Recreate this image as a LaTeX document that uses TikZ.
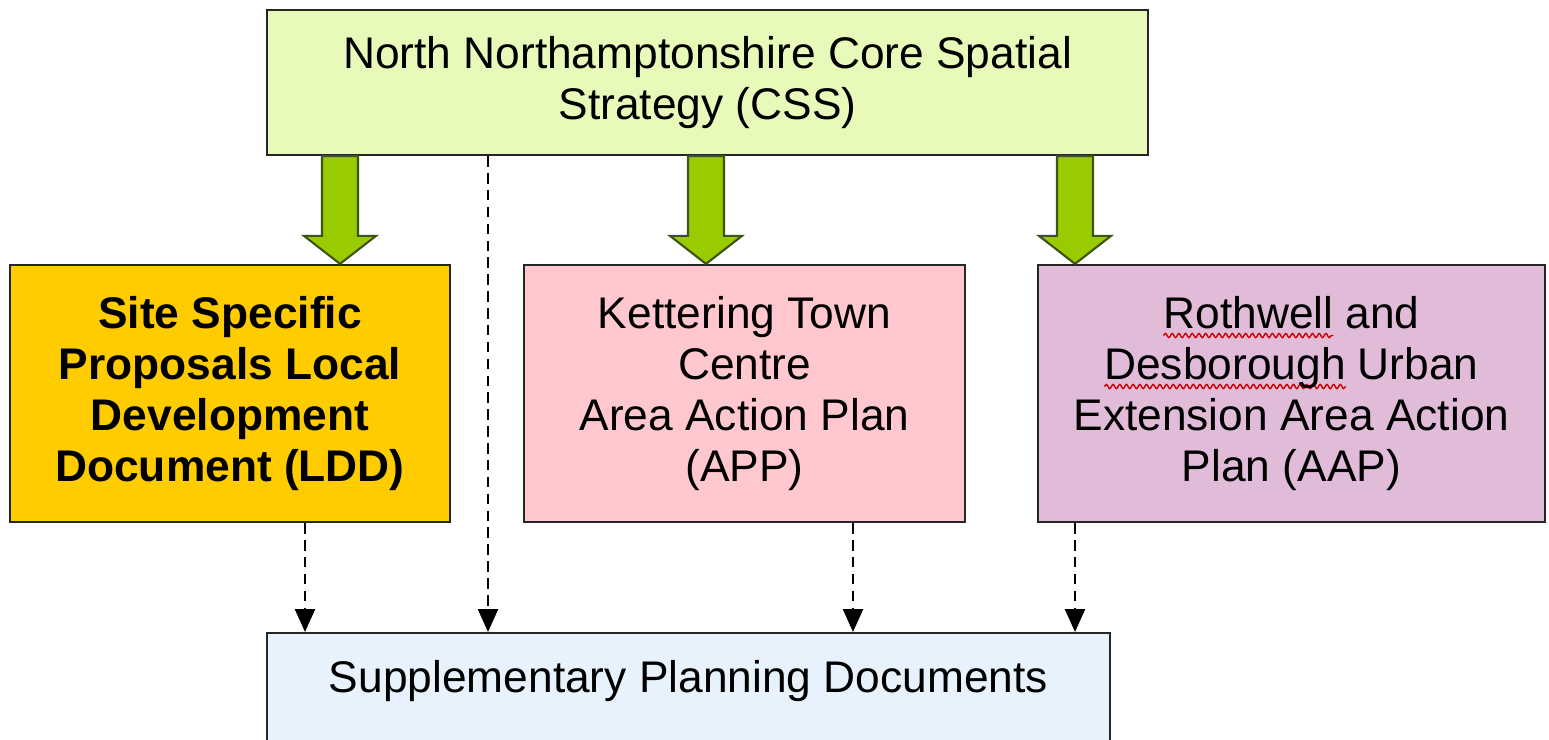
\documentclass[tikz,border=0pt]{standalone}
\usepackage{fontspec}
\setmainfont{Liberation Sans}
\usetikzlibrary{arrows.meta,calc,decorations.pathmorphing}

\definecolor{cssfill}{HTML}{E7FAB9}
\definecolor{lddfill}{HTML}{FFCC00}
\definecolor{appfill}{HTML}{FFC8CE}
\definecolor{aapfill}{HTML}{E1BCD9}
\definecolor{spdfill}{HTML}{E8F2FC}
\definecolor{leafgreen}{HTML}{99CC00}
\definecolor{leafedge}{HTML}{3F5410}

\newcommand{\planfont}{\fontsize{12.6}{14.5}\selectfont}
\newlength{\flagwd}
\newcommand{\spellflag}[1]{\settowidth{\flagwd}{#1}\rlap{\tikz[overlay]\draw[squiggle] (0pt,-2pt) -- (\flagwd,-2pt);}#1}

\tikzset{
	plan/.style={draw=black!85,line width=0.6pt,align=center,inner sep=0pt,font=\planfont},
	feeds/.style={draw=black,line width=0.7pt,dash pattern=on 3pt off 1.8pt,-{Triangle[length=0.23cm,width=0.2cm]}},
	blockarrow/.style={draw=leafedge,fill=leafgreen,line width=0.6pt,line join=miter},
	squiggle/.style={draw=red!80!black,fill=none,line width=0.4pt,solid,decorate,decoration={snake,amplitude=0.6pt,segment length=1.9pt}}
}

\begin{document}
\begin{tikzpicture}[x=0.01cm,y=-0.01cm]
	\useasboundingbox (0,0) rectangle (1549,739);
	\clip (0,0) rectangle (1549,739);
	\node[plan,fill=cssfill,minimum width=8.81cm,minimum height=1.45cm] (css) at (707.5,82.5) {North Northamptonshire Core Spatial\\Strategy (CSS)};
	\node[plan,fill=lddfill,minimum width=4.40cm,minimum height=2.57cm,font=\planfont\bfseries] (ldd) at (230,393.5) {Site Specific\\Proposals Local\\Development\\Document (LDD)};
	\node[plan,fill=appfill,minimum width=4.41cm,minimum height=2.57cm] (app) at (744.5,393.5) {Kettering Town\\Centre\\Area Action Plan\\(APP)};
	\node[plan,fill=aapfill,minimum width=5.07cm,minimum height=2.57cm] (aap) at (1291.5,393.5) {\spellflag{Rothwell} and\\\spellflag{Desborough} Urban\\Extension Area Action\\Plan (AAP)};
	\node[plan,fill=spdfill,minimum width=8.43cm,text height=0.59cm,text depth=0.8cm,anchor=north] (spd) at (688.5,632) {Supplementary Planning Documents};
	\foreach \x/\t in {340/ldd,706/app,1075/aap} {
		\coordinate (g) at (\x,0);
		\coordinate (s) at (css.south -| g);
		\coordinate (e) at (\t.north -| g);
		\draw[blockarrow] ($(s)+(-18,0)$) -- ($(s)+(18,0)$) -- ($(e)+(18,-28)$) -- ($(e)+(36,-28)$) -- (e) -- ($(e)+(-36,-28)$) -- ($(e)+(-18,-28)$) -- cycle;
	}
	\foreach \x/\s in {305/ldd,488/css,853/app,1075/aap} {
		\coordinate (d) at (\x,0);
		\draw[feeds] (\s.south -| d) -- (spd.north -| d);
	}
\end{tikzpicture}
\end{document}
